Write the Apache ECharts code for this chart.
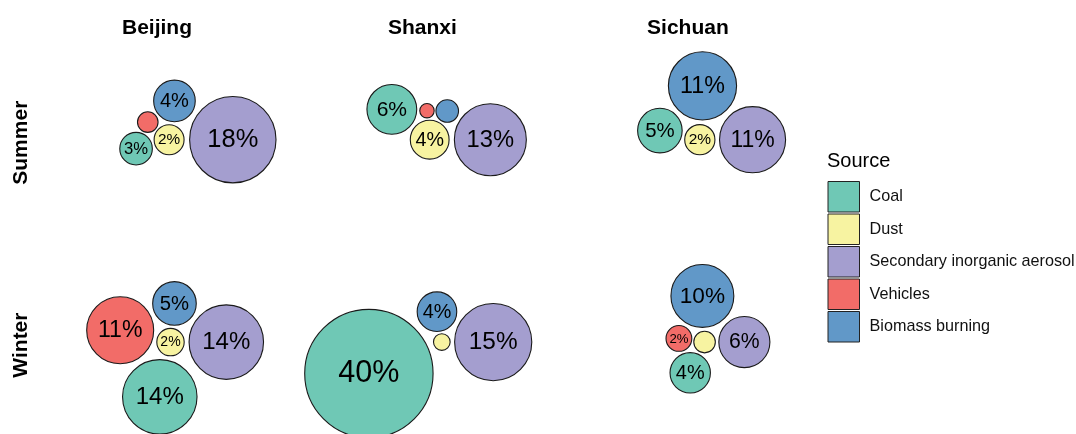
<!DOCTYPE html>
<html><head><meta charset="utf-8">
<script src="https://cdn.jsdelivr.net/npm/echarts@6/dist/echarts.min.js"></script>
<style>html,body{margin:0;padding:0;background:#fff}#c{width:1076px;height:434px}</style>
</head><body><div id="c"></div>
<script>
// ---------------- data ----------------
const sources = ['Coal', 'Dust', 'Secondary inorganic aerosol', 'Vehicles', 'Biomass burning'];
const regions = ['Beijing', 'Shanxi', 'Sichuan'];
const seasons = ['Summer', 'Winter'];
const legendTitle = 'Source';
// contribution (%) of each source, in the order of `sources`; null = not shown
const beijingSummer = [2.6, 2.2, 18.3, 1.04, 4.24];
const shanxiSummer  = [6.08, 3.69, 12.7, 0.51, 1.25];
const sichuanSummer = [4.87, 2.24, 10.7, null, 11.4];
const beijingWinter = [13.6, 1.84, 13.6, 11.0, 4.66];
const shanxiWinter  = [40.4, 0.68, 14.6, null, 3.84];
const sichuanWinter = [4.0, 1.14, 6.4, 1.63, 9.7];
// order in which circles are packed
const packOrder = ['Dust', 'Secondary inorganic aerosol', 'Biomass burning', 'Vehicles', 'Coal'];

// ---------------- style ----------------
const colors = ['#6FC8B5', '#F7F3A1', '#A49ECF', '#F26C68', '#6198C8'];
const FONT = '"Liberation Sans", Arial, Helvetica, sans-serif';
const S = 11.06;            // px per layout unit
const DRAW_RATIO = 0.913;   // drawn radius / packing radius
const COL_STEP = 24, ROW_STEP = 18.3;
const ORIGIN = [185.5, 139.7];
const XMIN = -12, XMAX = 56, YMIN = -9, YMAX = 26.6;

const table = [[beijingSummer, shanxiSummer, sichuanSummer], [beijingWinter, shanxiWinter, sichuanWinter]];

// ------------- front-chain circle packing (progressive layout) -------------
function link(n) { n._next = n._prev = n; }
function insert(a, b) { const c = a._next; a._next = b; b._prev = a; b._next = c; c._prev = b; }
function splice(a, b) { a._next = b; b._prev = a; }
function intersects(a, b) { const dx = b.x - a.x, dy = b.y - a.y, dr = a.r + b.r; return 0.999 * dr * dr > dx * dx + dy * dy; }
function place(a, b, c) {
  let db = a.r + c.r; const dx = b.x - a.x, dy = b.y - a.y;
  if (db && (dx || dy)) {
    let da = b.r + c.r; const dc = dx * dx + dy * dy;
    da *= da; db *= db;
    const x = 0.5 + (db - da) / (2 * dc);
    const y = Math.sqrt(Math.max(0, 2 * da * (db + dc) - (db - dc) * (db - dc) - da * da)) / (2 * dc);
    c.x = a.x + x * dx + y * dy;
    c.y = a.y + x * dy - y * dx;
  } else { c.x = a.x + db; c.y = a.y; }
}
function pack(nodes) {
  const n = nodes.length; if (!n) return;
  nodes.forEach(link);
  let a = nodes[0]; a.x = -a.r; a.y = 0;
  if (n < 2) return;
  let b = nodes[1]; b.x = b.r; b.y = 0;
  if (n < 3) return;
  let c = nodes[2];
  place(a, b, c); insert(a, c); a._prev = c; insert(c, b); b = a._next;
  for (let i = 3; i < n; i++) {
    c = nodes[i]; place(a, b, c);
    let isect = 0, s1 = 1, s2 = 1, j, k;
    for (j = b._next; j !== b; j = j._next, s1++) { if (intersects(j, c)) { isect = 1; break; } }
    if (isect) { for (k = a._prev; k !== j._prev; k = k._prev, s2++) { if (intersects(k, c)) break; } }
    if (isect) {
      if (s1 < s2 || (s1 === s2 && b.r < a.r)) { b = j; splice(a, b); } else { a = k; splice(a, b); }
      i--;
    } else { insert(a, c); b = c; }
  }
}

const seriesData = sources.map(() => []);
table.forEach((row, ri) => row.forEach((vals, ci) => {
  const nodes = packOrder.map(name => ({ name, v: vals[sources.indexOf(name)] }))
    .filter(d => d.v != null && d.v > 0)
    .map(d => Object.assign(d, { r: Math.sqrt(d.v) }));
  pack(nodes);
  nodes.forEach(d => seriesData[sources.indexOf(d.name)].push([ci * COL_STEP + d.x, ri * ROW_STEP + d.y, d.r, d.v]));
}));

function renderItem(params, api) {
  const c = api.coord([api.value(0), api.value(1)]);
  const rPx = api.size([api.value(2), 0])[0] * DRAW_RATIO;
  const v = api.value(3);
  const children = [{ type: 'circle', shape: { cx: c[0], cy: c[1], r: rPx },
    style: { fill: colors[params.seriesIndex], stroke: '#1a1a1a', lineWidth: 1.1 } }];
  const rounded = Math.round(v);
  if (rounded >= 2) {
    const label = rounded + '%';
    const emW = 0.556 * String(rounded).length + 0.889;
    const fs = Math.min(0.74 * 2 * rPx / emW, 15 + 2.45 * Math.sqrt(v));
    children.push({ type: 'text', x: c[0], y: c[1] + 0.5,
      style: { text: label, fill: '#000', fontSize: fs, fontFamily: FONT, align: 'center', verticalAlign: 'middle' } });
  }
  return { type: 'group', children };
}

const graphics = [];
regions.forEach((name, i) => graphics.push({ type: 'text', x: ORIGIN[0] - 28.5 + i * COL_STEP * S, y: 28.5,
  style: { text: name, fill: '#000', fontSize: 21, fontWeight: 'bold', fontFamily: FONT, align: 'center', verticalAlign: 'middle' } }));
seasons.forEach((name, i) => graphics.push({ type: 'text', x: 21.5, y: ORIGIN[1] + 3 + i * ROW_STEP * S, rotation: Math.PI / 2,
  style: { text: name, fill: '#000', fontSize: 21, fontWeight: 'bold', fontFamily: FONT, align: 'center', verticalAlign: 'middle' } }));
graphics.push({ type: 'text', x: 827, y: 161.5,
  style: { text: legendTitle, fill: '#000', fontSize: 20, fontFamily: FONT, align: 'left', verticalAlign: 'middle' } });

const chart = echarts.init(document.getElementById('c'), null, { renderer: 'canvas' });
chart.setOption({
  animation: false,
  backgroundColor: '#fff',
  grid: { left: ORIGIN[0] + XMIN * S, top: ORIGIN[1] + YMIN * S, width: (XMAX - XMIN) * S, height: (YMAX - YMIN) * S, containLabel: false },
  xAxis: { type: 'value', min: XMIN, max: XMAX, show: false },
  yAxis: { type: 'value', min: YMIN, max: YMAX, inverse: true, show: false },
  legend: {
    data: sources, orient: 'vertical', left: 827.5, top: 181, padding: 0,
    itemWidth: 31.5, itemHeight: 30.5, itemGap: 1, icon: 'rect', selectedMode: false,
    itemStyle: { borderColor: '#222', borderWidth: 1 },
    textStyle: { fontSize: 16.2, fontFamily: FONT, color: '#111', padding: [0, 0, 0, 5] }
  },
  graphic: graphics,
  series: sources.map((name, i) => ({
    type: 'custom', name, coordinateSystem: 'cartesian2d', clip: false,
    itemStyle: { color: colors[i] }, renderItem, data: seriesData[i]
  }))
});
</script></body></html>
